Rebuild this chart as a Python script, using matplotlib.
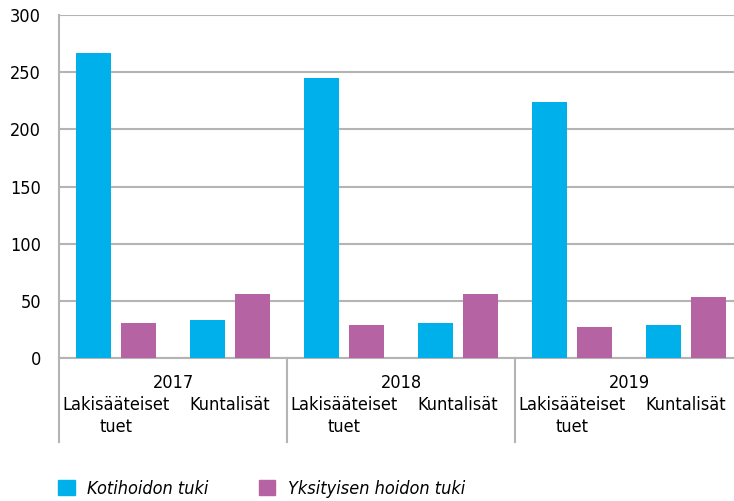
import matplotlib
matplotlib.use("Agg")
import matplotlib.pyplot as plt
from matplotlib import font_manager
from matplotlib.patches import Patch
import numpy as np

# Tiedot
years = ["2017", "2018", "2019"]
subcats = ["Lakisääteiset\ntuet", "Kuntalisät"]
series_names = ["Kotihoidon tuki", "Yksityisen hoidon tuki"]
kotihoidon = [267, 33, 245, 31, 224, 29]
yksityisen = [31, 56, 29, 56, 27, 53]
yticks = [0, 50, 100, 150, 200, 250, 300]

colors = ["#00b0ea", "#b663a3"]
grid_c = "#b4b4b4"

names = {f.name for f in font_manager.fontManager.ttflist}
if "Liberation Sans Narrow" in names:
    plt.rcParams["font.family"] = ["Liberation Sans Narrow", "DejaVu Sans"]
    stretch = "normal"
    fs = 15
else:
    plt.rcParams["font.family"] = ["DejaVu Sans"]
    stretch = "condensed"
    fs = 13

W, H = 734, 501
fig = plt.figure(figsize=(W / 100, H / 100), dpi=100)
left, right, top, bottom = 59, 743, 15, 358
ax = fig.add_axes([left / W, 1 - bottom / H, (right - left) / W, (bottom - top) / H])

x = np.arange(len(kotihoidon)) + 0.5
off, bw = 0.193, 0.307
ax.bar(x - off, kotihoidon, bw, color=colors[0], zorder=3)
ax.bar(x + off, yksityisen, bw, color=colors[1], zorder=3)

ax.set_xlim(0, 6)
ax.set_ylim(0, 300)
ax.set_yticks(yticks)
ax.set_yticklabels([str(v) for v in yticks], fontsize=fs, fontstretch=stretch)
ax.tick_params(axis="y", length=0, pad=13)
ax.set_xticks([])
ax.grid(axis="y", color=grid_c, lw=1.5, zorder=0)
for s in ["top", "right"]:
    ax.spines[s].set_visible(False)
for s in ["left", "bottom"]:
    ax.spines[s].set_color(grid_c)
    ax.spines[s].set_linewidth(1.5)

trans = matplotlib.transforms.blended_transform_factory(ax.transData, ax.transAxes)
ext = -(442 - bottom) / (bottom - top)
for g in range(4):
    ax.plot([2 * g, 2 * g], [0, ext], color=grid_c, lw=1.5, transform=trans, clip_on=False)

for g, yr in enumerate(years):
    ax.text(2 * g + 1, -(383 - bottom) / (bottom - top), yr, transform=trans,
            ha="center", va="center", fontsize=fs, fontstretch=stretch)
    for j, sc in enumerate(subcats):
        ax.text(2 * g + j + 0.5, -(396 - bottom) / (bottom - top), sc, transform=trans,
                ha="center", va="top", multialignment="center", fontsize=fs,
                fontstretch=stretch, linespacing=1.25)

handles = [Patch(color=c, label=n) for c, n in zip(colors, series_names)]
fig.legend(handles=handles, loc="center left", bbox_to_anchor=(42 / W, 1 - 489 / H),
           ncol=2, frameon=False, handlelength=0.9, handleheight=0.9,
           handletextpad=0.7, columnspacing=2.8,
           prop={"size": fs, "style": "italic", "stretch": stretch})

fig.savefig("out.png", dpi=100)
